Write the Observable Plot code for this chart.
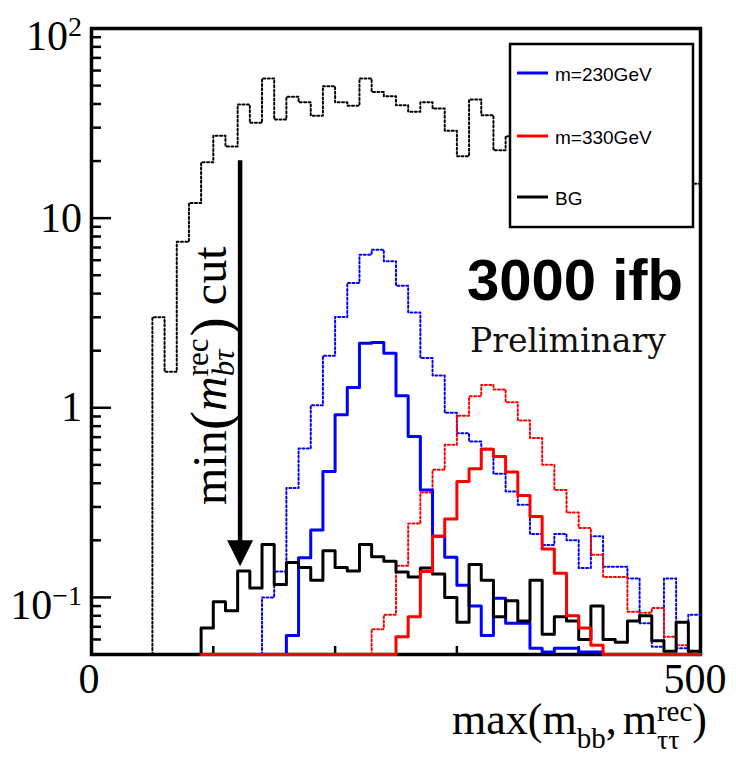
<!DOCTYPE html>
<html><head><meta charset="utf-8">
<script src="https://cdn.jsdelivr.net/npm/d3@7"></script>
<script src="https://cdn.jsdelivr.net/npm/@observablehq/plot@0.6"></script>
<style>html,body{margin:0;padding:0;background:#fff;}</style>
</head><body><div id="chart"></div>
<script>
// ---------- data (bin width 10) ----------
const binWidth = 10;
const xDomain = [0, 500];
const yDomain = [0.05, 100];

// BG before cut (dotted black); bins 350-490 are hidden behind the legend (estimates)
const bgDottedStart = 50;
const bgDotted = [3.0, 1.55, 7.5, 12.0, 19.7, 27.2, 23.9, 39.7, 31.8, 54.5,
  33.1, 43.6, 40.8, 34.7, 49.6, 40.8, 39.2, 54.5, 46.3, 43.9,
  39.4, 36.4, 40.8, 37.8, 28.9, 21.2, 42.2, 34.9, 22.8, 27.0,
  25, 29, 23, 21, 24, 19, 21, 17, 19, 16, 18, 14, 16, 13, 15.2];

// m=230GeV before cut (dotted blue)
const sig230DottedStart = 140;
const sig230Dotted = [0.10, 0.137, 0.377, 0.61, 1.03, 1.88, 3.01, 4.55, 6.42, 6.82,
  5.92, 4.40, 3.18, 1.83, 1.48, 0.94, 0.735, 0.664, 0.608, 0.449,
  0.362, 0.308, 0.216, 0.189, 0.216, 0.20, 0.143, 0.21, 0.145, 0.145,
  0.126, 0.073, 0.055, 0.126, 0.054, 0.081];

// m=330GeV before cut (dotted red)
const sig330DottedStart = 230;
const sig330Dotted = [0.068, 0.081, 0.147, 0.245, 0.357, 0.471, 0.638, 0.907, 1.15, 1.32,
  1.25, 1.07, 0.857, 0.692, 0.50, 0.369, 0.28, 0.232, 0.168, 0.128,
  0.128, 0.084, 0.083, 0.088, 0.062, 0.056, 0];

// m=230GeV after cut (solid blue)
const sig230Start = 160;
const sig230 = [0.063, 0.162, 0.227, 0.461, 0.918, 1.28, 2.19, 2.21, 1.94, 1.157,
  0.706, 0.369, 0.21, 0.163, 0.116, 0.090, 0.063, 0.099, 0.073, 0.073,
  0.054, 0.0515, 0.054, 0.054, 0.0515, 0.0515, 0, 0, 0, 0, 0, 0, 0, 0];

// m=330GeV after cut (solid red)
const sig330Start = 90;
const sig330 = [0, 0, 0, 0, 0, 0, 0, 0, 0, 0, 0, 0, 0, 0, 0, 0,
  0.062, 0.079, 0.137, 0.21, 0.259, 0.409, 0.477, 0.605, 0.553, 0.458,
  0.345, 0.267, 0.18, 0.134, 0.08, 0.069, 0.056, 0, 0, 0, 0, 0, 0, 0, 0];

// BG after cut (solid black)
const bgStart = 90;
const bg = [0.069, 0.095, 0.085, 0.138, 0.112, 0.19, 0.117, 0.153, 0.144, 0.123,
  0.176, 0.144, 0.138, 0.19, 0.164, 0.155, 0.136, 0.128, 0.143, 0.133,
  0.10, 0.074, 0.149, 0.123, 0.079, 0.096, 0.075, 0.123, 0.064, 0.079,
  0.075, 0.06, 0.09, 0.06, 0.058, 0.075, 0.08, 0.059, 0.052, 0.074, 0.052];

const seriesNames = ["m=230GeV", "m=330GeV", "BG"];
const seriesColors = ["#0000ff", "#ff0000", "#000000"];

const yLabelValues = [0.1, 1, 10, 100];
const yLabelBase = ["10", "1", "10", "10"];
const yLabelExp = ["\u22121", "", "", "2"];
const xTicks = [100, 200, 300, 400];
const xLabelValues = [0, 500];
const xLabelText = ["0", "500"];

// min(m_btau) cut annotation, in data units
const cutArrow = {x: 122, top: 20.1, shaftEnd: 0.19, head: 0.171};

// ---------- layout ----------
const W = 736, H = 758;
const mL = 91, mR = 36, mT = 28, mB = 104;
const frameW = W - mL - mR, frameH = H - mT - mB;
const yMin = yDomain[0];

function steps(start, values) {
  const pts = [{x: start, y: yMin}];
  values.forEach((v, i) => pts.push({x: start + i * binWidth, y: Math.max(v, yMin)}));
  pts.push({x: start + values.length * binWidth, y: Math.max(values[values.length - 1], yMin)});
  return pts;
}

const yMinor = [];
for (let e = -2; e <= 1; e++) for (let k = 2; k <= 9; k++) {
  const v = k * Math.pow(10, e);
  if (v > yMin && v < yDomain[1]) yMinor.push(v);
}

const downTriangle = {
  draw(ctx, size) {
    const r = Math.sqrt(size / Math.PI);
    const hw = 1.35 * r, h = 2.7 * r;
    ctx.moveTo(-hw, -h / 2); ctx.lineTo(hw, -h / 2); ctx.lineTo(0, h / 2); ctx.closePath();
  }
};

const dotted = {strokeWidth: 2, strokeDasharray: "2,2.4", curve: "step-after"};
const solid = {strokeWidth: 3, curve: "step-after"};

const plot = Plot.plot({
  width: W, height: H,
  marginLeft: mL, marginRight: mR, marginTop: mT, marginBottom: mB,
  x: {domain: xDomain, axis: null},
  y: {type: "log", domain: yDomain, axis: null},
  style: {background: "white", overflow: "visible"},
  marks: [
    Plot.frame({stroke: "black", strokeWidth: 3.5}),
    Plot.tickY(yLabelValues, {y: d => d, insetRight: frameW - 20, stroke: "black", strokeWidth: 2.5}),
    Plot.tickY(yMinor, {y: d => d, insetRight: frameW - 10, stroke: "black", strokeWidth: 2.5}),
    Plot.tickX(xTicks, {x: d => d, insetTop: frameH - 8, stroke: "black", strokeWidth: 2.5}),
    Plot.line(steps(bgDottedStart, bgDotted), {x: "x", y: "y", stroke: seriesColors[2], ...dotted}),
    Plot.line(steps(sig230DottedStart, sig230Dotted), {x: "x", y: "y", stroke: seriesColors[0], ...dotted}),
    Plot.line(steps(sig330DottedStart, sig330Dotted), {x: "x", y: "y", stroke: seriesColors[1], ...dotted}),
    Plot.line(steps(sig230Start, sig230), {x: "x", y: "y", stroke: seriesColors[0], ...solid}),
    Plot.line(steps(bgStart, bg), {x: "x", y: "y", stroke: seriesColors[2], ...solid}),
    Plot.line(steps(sig330Start, sig330), {x: "x", y: "y", stroke: seriesColors[1], ...solid}),
    Plot.ruleX([cutArrow], {x: "x", y1: "top", y2: "shaftEnd", stroke: "black", strokeWidth: 4.5}),
    Plot.dot([cutArrow], {x: "x", y: "head", symbol: downTriangle, r: 9.6, fill: "black", stroke: "none"})
  ]
});
document.getElementById("chart").appendChild(plot);

// ---------- texts ----------
const svg = d3.select(plot);
const X = v => plot.scale("x").apply(v);
const Y = v => plot.scale("y").apply(v);
const serif = "'Liberation Serif', 'Times New Roman', serif";
const sans = "'Liberation Sans', Arial, sans-serif";

// y tick labels
yLabelValues.forEach((v, i) => {
  const hasExp = yLabelExp[i] !== "";
  const t = svg.append("text")
    .attr("x", X(0) - 9)
    .attr("y", Y(v) + 14 + (hasExp ? 8 : 0))
    .attr("text-anchor", "end")
    .attr("font-family", serif).attr("font-size", 42).attr("fill", "black");
  t.append("tspan").text(yLabelBase[i]);
  if (hasExp) t.append("tspan").attr("font-size", 28).attr("dy", -14).text(yLabelExp[i]);
});

// x tick labels
xLabelValues.forEach((v, i) => {
  svg.append("text")
    .attr("x", X(v) - (i === 0 ? 2 : 5)).attr("y", 693)
    .attr("text-anchor", "middle")
    .attr("font-family", serif).attr("font-size", 42).attr("fill", "black")
    .text(xLabelText[i]);
});

function rich(g, pieces) {
  let cursor = 0, stackStart = 0, stackW = 0;
  for (const p of pieces) {
    const t = g.append("text")
      .attr("x", p.stack === "second" ? stackStart : cursor)
      .attr("y", p.dy || 0)
      .attr("text-anchor", "start")
      .attr("font-family", serif).attr("font-size", p.size)
      .attr("font-style", p.italic ? "italic" : "normal")
      .attr("fill", "black").text(p.t);
    const w = t.node().getComputedTextLength();
    if (p.stack === "first") { stackStart = cursor; stackW = w; }
    else if (p.stack === "second") { cursor = stackStart + Math.max(stackW, w) + (p.gap || 0); }
    else cursor += w + (p.gap || 0);
  }
  return cursor;
}

// x axis title
const gx = svg.append("g");
const wx = rich(gx, [
  {t: "max(m", size: 44},
  {t: "bb", size: 29, dy: 14},
  {t: ",", size: 44, gap: 6},
  {t: "m", size: 44},
  {t: "\u03c4\u03c4", size: 28, dy: 15, stack: "first"},
  {t: "rec", size: 29, dy: -13, stack: "second"},
  {t: ")", size: 44}
]);
gx.attr("transform", `translate(${X(xDomain[1]) + 7 - wx},734)`);

// rotated cut annotation
const gr = svg.append("g").attr("transform", "translate(226,505) rotate(-90)");
rich(gr, [
  {t: "min", size: 48},
  {t: "(", size: 58, dy: 4},
  {t: "m", size: 48, italic: true},
  {t: "b\u03c4", size: 31, dy: 8, italic: true, stack: "first"},
  {t: "rec", size: 31, dy: -18, stack: "second", gap: 2},
  {t: ")", size: 58, dy: 4, gap: 12},
  {t: "cut", size: 48}
]);

// big labels
svg.append("text").attr("x", 683).attr("y", 300).attr("text-anchor", "end")
  .attr("font-family", sans).attr("font-weight", "bold").attr("font-size", 58)
  .attr("fill", "black").text("3000 ifb");
svg.append("text").attr("x", 470).attr("y", 352).attr("text-anchor", "start")
  .attr("font-family", "'DejaVu Serif', serif").attr("font-size", 33)
  .attr("fill", "#111").text("Preliminary");

// legend
const lg = svg.append("g");
lg.append("rect").attr("x", 510).attr("y", 44).attr("width", 183).attr("height", 183)
  .attr("fill", "white").attr("stroke", "black").attr("stroke-width", 2.5);
const rowY = [73, 136, 197];
seriesNames.forEach((name, i) => {
  lg.append("line").attr("x1", 517).attr("x2", 548).attr("y1", rowY[i]).attr("y2", rowY[i])
    .attr("stroke", seriesColors[i]).attr("stroke-width", 3);
  lg.append("text").attr("x", 555).attr("y", rowY[i] + 8).attr("text-anchor", "start")
    .attr("font-family", sans).attr("font-size", 19).attr("fill", "black").text(name);
});
</script>
</body></html>
